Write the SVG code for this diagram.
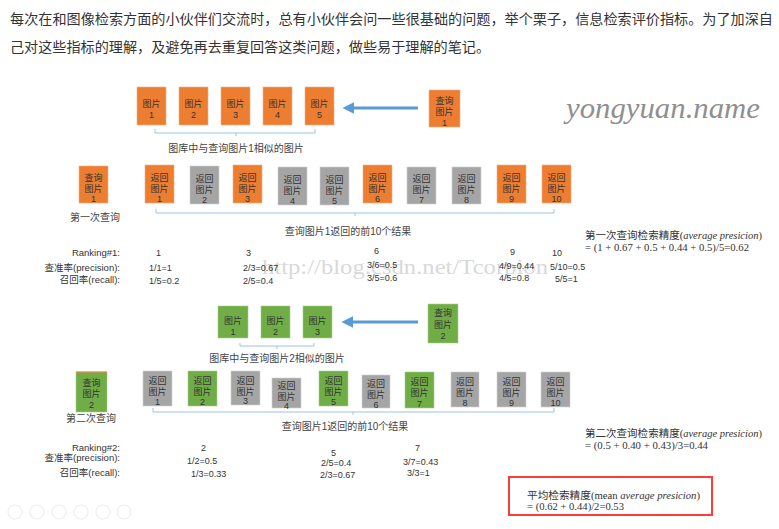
<svg xmlns="http://www.w3.org/2000/svg" width="779" height="529" viewBox="0 0 779 529">
<defs>
<style>
.bg{fill:#ffffff}
.or{fill:#ed7d31;stroke:#f4b183;stroke-width:0.6}
.gr{fill:#a5a5a5;stroke:#cfcfcf;stroke-width:0.6}
.gn{fill:#70ad47;stroke:#a9d18e;stroke-width:0.6}
.bt{font-family:"Liberation Sans","Noto Sans CJK SC",sans-serif;font-size:9px;fill:#333;text-anchor:middle}
.lb{font-family:"Liberation Sans","Noto Sans CJK SC",sans-serif;font-size:10px;fill:#444}
.rk{font-family:"Liberation Sans","Noto Sans CJK SC",sans-serif;font-size:9px;fill:#333}
.rr{font-family:"Liberation Sans","Noto Sans CJK SC",sans-serif;font-size:9.5px;fill:#333;text-anchor:end}
.fm{font-family:"Liberation Serif","Noto Sans CJK SC",serif;font-size:10.5px;fill:#333}
.hd{font-family:"Liberation Sans","Noto Sans CJK SC",sans-serif;font-size:14px;fill:#333}
.br{fill:none;stroke:#9dc3e6;stroke-width:1}
.ar{stroke:#5b9bd5;stroke-width:3;fill:none}
</style>
<marker id="ah" viewBox="0 0 10 10" refX="2" refY="5" markerWidth="4" markerHeight="4" markerUnits="strokeWidth" orient="auto">
<path d="M0,0 L10,5 L0,10 z" fill="#5b9bd5"/>
</marker>
</defs>
<rect class="bg" x="0" y="0" width="779" height="529"/>

<!-- header text -->
<text class="hd" x="10" y="24" textLength="763" lengthAdjust="spacingAndGlyphs">每次在和图像检索方面的小伙伴们交流时，总有小伙伴会问一些很基础的问题，举个栗子，信息检索评价指标。为了加深自</text>
<text class="hd" x="10" y="52" textLength="480" lengthAdjust="spacingAndGlyphs">己对这些指标的理解，及避免再去重复回答这类问题，做些易于理解的笔记。</text>

<!-- watermarks -->
<text x="566" y="118" textLength="194" lengthAdjust="spacingAndGlyphs" style="font-family:'Liberation Serif',serif;font-style:italic;font-size:30px;fill:#8f8f8f">yongyuan.name</text>
<text x="262" y="274" textLength="286" lengthAdjust="spacingAndGlyphs" style="font-family:'Liberation Serif',serif;font-size:22px;fill:#d9d9d9">http://blog.csdn.net/Tcorpion</text>

<!-- connectors -->
<g id="connectors">
<line class="ar" x1="418" y1="108" x2="352" y2="108" marker-end="url(#ah)"/>
<line class="ar" x1="418" y1="322" x2="351" y2="322" marker-end="url(#ah)"/>
<path class="br" d="M155,129 V133 H315 V129 M236,133 V136"/>
<path class="br" d="M156,209 V213 H554 V209 M355,213 V216"/>
<path class="br" d="M240,343 V346 H314 V343 M277,346 V349"/>
<path class="br" d="M153,408 V412 H554 V408 M353,412 V415"/>
</g>

<!-- top row: similar images for query 1 -->
<g id="sim1-1"><rect class="or" x="137" y="87" width="29" height="38"/><text class="bt" x="151.5" y="107">图片</text><text class="bt" x="151.5" y="118">1</text></g>
<g id="sim1-2"><rect class="or" x="179" y="87" width="29" height="38"/><text class="bt" x="193.5" y="107">图片</text><text class="bt" x="193.5" y="118">2</text></g>
<g id="sim1-3"><rect class="or" x="221" y="87" width="29" height="38"/><text class="bt" x="235.5" y="107">图片</text><text class="bt" x="235.5" y="118">3</text></g>
<g id="sim1-4"><rect class="or" x="263" y="87" width="29" height="38"/><text class="bt" x="277.5" y="107">图片</text><text class="bt" x="277.5" y="118">4</text></g>
<g id="sim1-5"><rect class="or" x="305" y="87" width="29" height="38"/><text class="bt" x="319.5" y="107">图片</text><text class="bt" x="319.5" y="118">5</text></g>
<g id="query1-top"><rect class="or" x="429" y="90" width="31" height="37"/><text class="bt" x="444.5" y="104">查询</text><text class="bt" x="444.5" y="115">图片</text><text class="bt" x="444.5" y="126">1</text></g>
<text class="lb" x="236" y="152" text-anchor="middle">图库中与查询图片1相似的图片</text>

<!-- first query row -->
<g id="query1"><rect class="or" x="79" y="166" width="29" height="37"/><text class="bt" x="93.5" y="181">查询</text><text class="bt" x="93.5" y="192">图片</text><text class="bt" x="93.5" y="202">1</text></g>
<text class="lb" x="70" y="221">第一次查询</text>
<g id="r1-1"><rect class="or" x="145" y="165" width="29" height="38"/><text class="bt" x="159.5" y="181">返回</text><text class="bt" x="159.5" y="192">图片</text><text class="bt" x="159.5" y="202">1</text></g>
<g id="r1-2"><rect class="gr" x="190" y="166" width="29" height="38"/><text class="bt" x="204.5" y="182">返回</text><text class="bt" x="204.5" y="193">图片</text><text class="bt" x="204.5" y="203">2</text></g>
<g id="r1-3"><rect class="or" x="233" y="165" width="29" height="38"/><text class="bt" x="247.5" y="181">返回</text><text class="bt" x="247.5" y="192">图片</text><text class="bt" x="247.5" y="202">3</text></g>
<g id="r1-4"><rect class="gr" x="278" y="167" width="29" height="38"/><text class="bt" x="292.5" y="183">返回</text><text class="bt" x="292.5" y="194">图片</text><text class="bt" x="292.5" y="204">4</text></g>
<g id="r1-5"><rect class="gr" x="320" y="167" width="29" height="38"/><text class="bt" x="334.5" y="183">返回</text><text class="bt" x="334.5" y="194">图片</text><text class="bt" x="334.5" y="204">5</text></g>
<g id="r1-6"><rect class="or" x="363" y="165" width="29" height="38"/><text class="bt" x="377.5" y="181">返回</text><text class="bt" x="377.5" y="192">图片</text><text class="bt" x="377.5" y="202">6</text></g>
<g id="r1-7"><rect class="gr" x="407" y="167" width="29" height="37"/><text class="bt" x="421.5" y="182">返回</text><text class="bt" x="421.5" y="193">图片</text><text class="bt" x="421.5" y="203">7</text></g>
<g id="r1-8"><rect class="gr" x="452" y="167" width="29" height="37"/><text class="bt" x="466.5" y="182">返回</text><text class="bt" x="466.5" y="193">图片</text><text class="bt" x="466.5" y="203">8</text></g>
<g id="r1-9"><rect class="or" x="497" y="165" width="29" height="38"/><text class="bt" x="511.5" y="181">返回</text><text class="bt" x="511.5" y="192">图片</text><text class="bt" x="511.5" y="202">9</text></g>
<g id="r1-10"><rect class="or" x="542" y="165" width="29" height="38"/><text class="bt" x="556.5" y="181">返回</text><text class="bt" x="556.5" y="192">图片</text><text class="bt" x="556.5" y="202">10</text></g>
<text class="lb" x="348" y="235" text-anchor="middle">查询图片1返回的前10个结果</text>

<!-- AP 1 -->
<text class="fm" x="585" y="239" textLength="177" lengthAdjust="spacingAndGlyphs">第一次查询检索精度(<tspan font-style="italic">average presicion</tspan>)</text>
<text class="fm" x="585" y="251" textLength="164" lengthAdjust="spacingAndGlyphs">= (1 + 0.67 + 0.5 + 0.44 + 0.5)/5=0.62</text>

<!-- ranking 1 -->
<text class="rr" x="120" y="256">Ranking#1:</text>
<text class="rr" x="120" y="271">查准率(precision):</text>
<text class="rr" x="120" y="283">召回率(recall):</text>
<text class="rk" x="156" y="256">1</text>
<text class="rk" x="149" y="271">1/1=1</text>
<text class="rk" x="149" y="284">1/5=0.2</text>
<text class="rk" x="246" y="256">3</text>
<text class="rk" x="243" y="271">2/3=0.67</text>
<text class="rk" x="243" y="284">2/5=0.4</text>
<text class="rk" x="374" y="254">6</text>
<text class="rk" x="367" y="268">3/6=0.5</text>
<text class="rk" x="367" y="281">3/5=0.6</text>
<text class="rk" x="510" y="255">9</text>
<text class="rk" x="499" y="269">4/9=0.44</text>
<text class="rk" x="499" y="281">4/5=0.8</text>
<text class="rk" x="552" y="256">10</text>
<text class="rk" x="550" y="270">5/10=0.5</text>
<text class="rk" x="555" y="282">5/5=1</text>

<!-- second row top -->
<g id="sim2-1"><rect class="gn" x="218" y="306" width="30" height="32"/><text class="bt" x="233" y="324">图片</text><text class="bt" x="233" y="335">1</text></g>
<g id="sim2-2"><rect class="gn" x="261" y="306" width="29" height="32"/><text class="bt" x="275.5" y="324">图片</text><text class="bt" x="275.5" y="335">2</text></g>
<g id="sim2-3"><rect class="gn" x="303" y="306" width="29" height="32"/><text class="bt" x="317.5" y="324">图片</text><text class="bt" x="317.5" y="335">3</text></g>
<g id="query2-top"><rect class="gn" x="428" y="304" width="30" height="39"/><text class="bt" x="443" y="316">查询</text><text class="bt" x="443" y="328">图片</text><text class="bt" x="443" y="339">2</text></g>
<text class="lb" x="277" y="362" text-anchor="middle">图库中与查询图片2相似的图片</text>

<!-- second query row -->
<g id="query2"><rect class="gn" x="76" y="372" width="31" height="40"/><line x1="76" y1="372" x2="107" y2="372" stroke="#ed7d31" stroke-width="1"/><text class="bt" x="91.5" y="386">查询</text><text class="bt" x="91.5" y="397">图片</text><text class="bt" x="91.5" y="408">2</text></g>
<text class="lb" x="66" y="422">第二次查询</text>
<g id="r2-1"><rect class="gr" x="143" y="371" width="29" height="35"/><text class="bt" x="157.5" y="384">返回</text><text class="bt" x="157.5" y="395">图片</text><text class="bt" x="157.5" y="405">1</text></g>
<g id="r2-2"><rect class="gn" x="188" y="371" width="29" height="35"/><text class="bt" x="202.5" y="384">返回</text><text class="bt" x="202.5" y="395">图片</text><text class="bt" x="202.5" y="405">2</text></g>
<g id="r2-3"><rect class="gr" x="231" y="371" width="29" height="34"/><text class="bt" x="245.5" y="384">返回</text><text class="bt" x="245.5" y="395">图片</text><text class="bt" x="245.5" y="404">3</text></g>
<g id="r2-4"><rect class="gr" x="272" y="378" width="29" height="30"/><text class="bt" x="286.5" y="389">返回</text><text class="bt" x="286.5" y="400">图片</text><text class="bt" x="286.5" y="409">4</text></g>
<g id="r2-5"><rect class="gn" x="319" y="371" width="29" height="35"/><text class="bt" x="333.5" y="384">返回</text><text class="bt" x="333.5" y="395">图片</text><text class="bt" x="333.5" y="405">5</text></g>
<g id="r2-6"><rect class="gr" x="362" y="375" width="28" height="33"/><text class="bt" x="376" y="387">返回</text><text class="bt" x="376" y="398">图片</text><text class="bt" x="376" y="408">6</text></g>
<g id="r2-7"><rect class="gn" x="405" y="372" width="29" height="36"/><text class="bt" x="419.5" y="385">返回</text><text class="bt" x="419.5" y="396">图片</text><text class="bt" x="419.5" y="407">7</text></g>
<g id="r2-8"><rect class="gr" x="451" y="372" width="28" height="35"/><text class="bt" x="465" y="385">返回</text><text class="bt" x="465" y="396">图片</text><text class="bt" x="465" y="406">8</text></g>
<g id="r2-9"><rect class="gr" x="497" y="372" width="29" height="35"/><text class="bt" x="511.5" y="385">返回</text><text class="bt" x="511.5" y="396">图片</text><text class="bt" x="511.5" y="406">9</text></g>
<g id="r2-10"><rect class="gr" x="541" y="372" width="29" height="35"/><text class="bt" x="555.5" y="385">返回</text><text class="bt" x="555.5" y="396">图片</text><text class="bt" x="555.5" y="406">10</text></g>
<text class="lb" x="345" y="430" text-anchor="middle">查询图片1返回的前10个结果</text>

<!-- AP 2 -->
<text class="fm" x="585" y="437" textLength="177" lengthAdjust="spacingAndGlyphs">第二次查询检索精度(<tspan font-style="italic">average presicion</tspan>)</text>
<text class="fm" x="585" y="449" textLength="123" lengthAdjust="spacingAndGlyphs">= (0.5 + 0.40 + 0.43)/3=0.44</text>

<!-- ranking 2 -->
<text class="rr" x="120" y="451">Ranking#2:</text>
<text class="rr" x="120" y="461">查准率(precision):</text>
<text class="rr" x="120" y="476">召回率(recall):</text>
<text class="rk" x="201" y="451">2</text>
<text class="rk" x="187" y="464">1/2=0.5</text>
<text class="rk" x="191" y="477">1/3=0.33</text>
<text class="rk" x="331" y="456">5</text>
<text class="rk" x="321" y="466">2/5=0.4</text>
<text class="rk" x="320" y="478">2/3=0.67</text>
<text class="rk" x="415" y="451">7</text>
<text class="rk" x="403" y="465">3/7=0.43</text>
<text class="rk" x="407" y="476">3/3=1</text>

<!-- mean AP box -->
<g id="map">
<rect x="509" y="477" width="203" height="38" fill="none" stroke="#ff3b3b" stroke-width="2"/>
<text class="fm" x="527" y="499" textLength="173" lengthAdjust="spacingAndGlyphs">平均检索精度(mean <tspan font-style="italic">average presicion</tspan>)</text>
<text class="fm" x="527" y="510" textLength="97" lengthAdjust="spacingAndGlyphs">= (0.62 + 0.44)/2=0.53</text>
</g>

<!-- faint toolbar icons -->
<g fill="none" stroke="#eeeeee" stroke-width="1.2">
<circle cx="15" cy="512" r="7"/>
<circle cx="37" cy="512" r="7"/>
<circle cx="59" cy="512" r="7"/>
<circle cx="81" cy="512" r="7"/>
<circle cx="103" cy="512" r="7"/>
<circle cx="124" cy="512" r="7"/>
</g>
</svg>
